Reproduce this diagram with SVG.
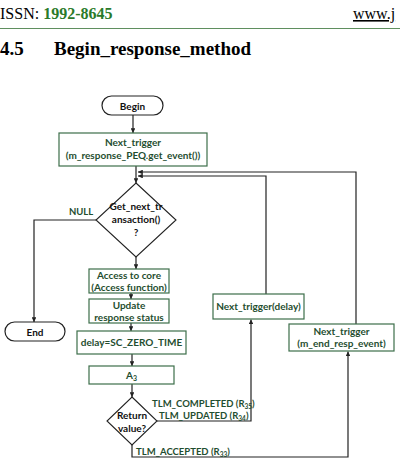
<svg xmlns="http://www.w3.org/2000/svg" width="400" height="462" viewBox="0 0 400 462">
<style>
.hdr{font-family:"Liberation Serif",serif;font-size:16px;fill:#000}
.ttl{font-family:"Liberation Serif",serif;font-size:19px;font-weight:bold;fill:#000}
.t{font-family:Lato,"Open Sans",sans-serif;font-size:10px;font-weight:bold;fill:#1f4e30;text-anchor:middle}
.tb{font-family:Lato,"Open Sans",sans-serif;font-size:10px;font-weight:bold;fill:#111;text-anchor:middle}
.lab{font-family:Lato,"Open Sans",sans-serif;font-size:9.5px;font-weight:bold;fill:#1f4e30}
.box{fill:#fff;stroke:#3c6e4a;stroke-width:1.2}
.term{fill:#fff;stroke:#222;stroke-width:1.2}
.dia{fill:#fff;stroke:#222;stroke-width:1.1}
.c{fill:none;stroke:#222;stroke-width:1.2}
</style>
<defs>
<marker id="ah" viewBox="0 0 6 6" refX="6" refY="3" markerWidth="4" markerHeight="4" orient="auto">
<path d="M0,0 L6,3 L0,6 z" fill="#222"/>
</marker>
</defs>
<rect width="400" height="462" fill="#fff"/>
<g id="header">
<text class="hdr" x="0" y="19">ISSN: <tspan font-weight="bold" fill="#2a7a2a">1992-8645</tspan></text>
<text class="hdr" x="353" y="19" fill="#1a1aa0" text-decoration="underline">www.j</text>
<line x1="0" y1="28.5" x2="400" y2="28.5" stroke="#5f8f5f" stroke-width="1"/>
<text class="ttl" x="0" y="55">4.5</text>
<text class="ttl" x="54" y="55">Begin_response_method</text>
</g>
<g id="connectors">
<line class="c" x1="133" y1="115" x2="133" y2="133" marker-end="url(#ah)"/>
<line class="c" x1="136" y1="166" x2="136" y2="183" marker-end="url(#ah)"/>
<line class="c" x1="136" y1="257" x2="136" y2="269" marker-end="url(#ah)"/>
<line class="c" x1="131" y1="293" x2="131" y2="299" marker-end="url(#ah)"/>
<line class="c" x1="131" y1="323" x2="131" y2="331" marker-end="url(#ah)"/>
<line class="c" x1="132" y1="354" x2="132" y2="366" marker-end="url(#ah)"/>
<line class="c" x1="132" y1="384" x2="132" y2="397" marker-end="url(#ah)"/>
<polyline class="c" points="96,220 34,220 34,322" marker-end="url(#ah)"/>
<polyline class="c" points="157,421 251,421 251,319.5" marker-end="url(#ah)"/>
<polyline class="c" points="132,445 132,457 348,457 348,351.5" marker-end="url(#ah)"/>
<polyline class="c" points="266,294 266,176 138,176" marker-end="url(#ah)"/>
<polyline class="c" points="356,324 356,172 138,172" marker-end="url(#ah)"/>
</g>
<g id="begin">
<rect class="term" x="102" y="96" width="61" height="19" rx="9.5"/>
<text class="tb" x="132.5" y="109.5">Begin</text>
</g>
<g id="next_trigger_peq">
<rect class="box" x="59" y="133" width="148" height="33"/>
<text class="t" x="133" y="146">Next_trigger</text>
<text class="t" x="133" y="159">(m_response_PEQ.get_event())</text>
</g>
<g id="get_next">
<polygon class="dia" points="136,183 176,220 136,257 96,220"/>
<text class="tb" x="136" y="210">Get_next_tr</text>
<text class="tb" x="136" y="223">ansaction()</text>
<text class="tb" x="136" y="236">?</text>
</g>
<g id="null_label"><text class="lab" x="69" y="215">NULL</text></g>
<g id="end">
<rect class="term" x="5" y="322" width="60" height="19" rx="9.5"/>
<text class="tb" x="35" y="335.5">End</text>
</g>
<g id="access">
<rect class="box" x="89" y="269" width="80" height="24"/>
<text class="t" x="129" y="279">Access to core</text>
<text class="t" x="129" y="291">(Access function)</text>
</g>
<g id="update">
<rect class="box" x="89" y="299" width="80" height="24"/>
<text class="t" x="129" y="309">Update</text>
<text class="t" x="129" y="321">response status</text>
</g>
<g id="delay">
<rect class="box" x="77" y="331" width="109" height="23"/>
<text class="t" x="131.5" y="346">delay=SC_ZERO_TIME</text>
</g>
<g id="a3">
<rect class="box" x="89" y="366" width="85" height="18"/>
<text class="t" x="131.5" y="379">A<tspan font-size="7" dy="2">3</tspan></text>
</g>
<g id="return">
<polygon class="dia" points="132,397 157,421 132,445 107,421"/>
<text class="tb" x="132" y="419">Return</text>
<text class="tb" x="132" y="432">value?</text>
</g>
<g id="labels">
<text class="lab" x="152" y="407">TLM_COMPLETED (R<tspan font-size="6.5" dy="1.5">35</tspan><tspan dy="-1.5">)</tspan></text>
<text class="lab" x="159" y="419">TLM_UPDATED (R<tspan font-size="6.5" dy="1.5">34</tspan><tspan dy="-1.5">)</tspan></text>
<text class="lab" x="136" y="455">TLM_ACCEPTED (R<tspan font-size="6.5" dy="1.5">33</tspan><tspan dy="-1.5">)</tspan></text>
</g>
<g id="next_trigger_delay">
<rect class="box" x="213" y="294" width="91" height="25"/>
<text class="t" x="258.5" y="310">Next_trigger(delay)</text>
</g>
<g id="next_trigger_end">
<rect class="box" x="289" y="324" width="105" height="27"/>
<text class="t" x="341.5" y="335">Next_trigger</text>
<text class="t" x="341.5" y="347">(m_end_resp_event)</text>
</g>
</svg>
